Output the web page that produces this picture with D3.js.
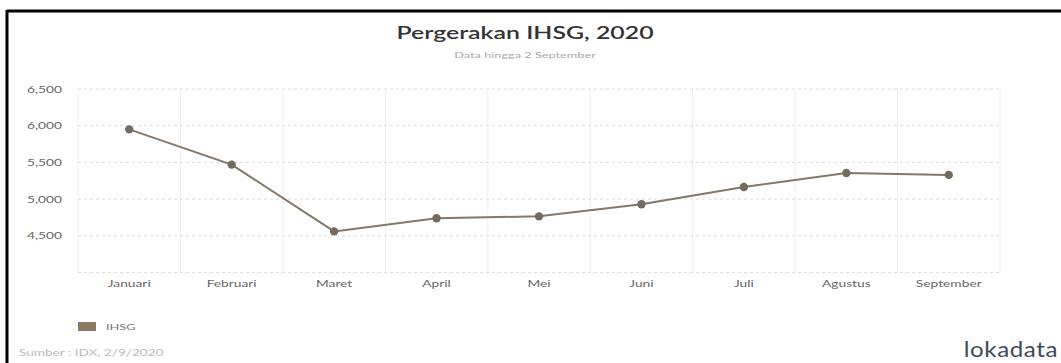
<!DOCTYPE html>
<html>
<head>
<meta charset="utf-8">
<script src="https://cdn.jsdelivr.net/npm/d3@7"></script>
<style>
  html, body { margin: 0; padding: 0; background: #fff; }
  svg { display: block; font-family: Lato, "Open Sans", sans-serif; }
</style>
</head>
<body>
<svg id="chart" width="1061" height="363"></svg>
<script>
// Monthly closing level of the IHSG index, 2020
const months = ["Januari", "Februari", "Maret", "April", "Mei", "Juni", "Juli", "Agustus", "September"];
const ihsg = [5950, 5470, 4560, 4740, 4765, 4930, 5165, 5355, 5330];
const yTicks = [4500, 5000, 5500, 6000, 6500];
const gridValues = [4000, 4500, 5000, 5500, 6000, 6500];

const svg = d3.select("#chart");

// the layout is stretched horizontally, text included
const stretch = 1.45;

function label(x, y, txt, opts) {
  const sx = opts.sx || stretch;
  const t = svg.append("text")
    .attr("transform", `translate(${x},${y}) scale(${sx},1)`)
    .attr("text-anchor", opts.anchor || "start")
    .attr("font-size", opts.size)
    .attr("font-weight", opts.weight || 400)
    .attr("fill", opts.fill)
    .text(txt);
  if (opts.spacing) t.attr("letter-spacing", opts.spacing);
  return t;
}

// frame lines along the top and left edge
svg.append("line").attr("x1", 7).attr("x2", 1061).attr("y1", 11).attr("y2", 11)
  .attr("stroke", "#000").attr("stroke-width", 3);
svg.append("line").attr("x1", 7).attr("x2", 7).attr("y1", 10).attr("y2", 363)
  .attr("stroke", "#000").attr("stroke-width", 3);

const plot = { left: 78, right: 1000, top: 89, bottom: 272.5 };

const x = d3.scaleBand().domain(months).range([plot.left, plot.right]);
const y = d3.scaleLinear().domain([4000, 6500]).range([plot.bottom, plot.top]);

// title block
label(525, 39, "Pergerakan IHSG, 2020", { anchor: "middle", size: 18, weight: 600, fill: "#333", sx: 1.38 });
label(525, 58, "Data hingga 2 September", { anchor: "middle", size: 8.5, fill: "#aaa", sx: 1.5 });

// vertical grid at band boundaries
const bounds = months.map(m => x(m)).concat([plot.right]);
svg.append("g").selectAll("line").data(bounds).join("line")
  .attr("x1", d => d).attr("x2", d => d)
  .attr("y1", plot.top).attr("y2", plot.bottom)
  .attr("stroke", "#f0f0f0").attr("stroke-width", 1);

// horizontal dashed grid
svg.append("g").selectAll("line").data(gridValues).join("line")
  .attr("x1", plot.left).attr("x2", plot.right)
  .attr("y1", d => y(d)).attr("y2", d => y(d))
  .attr("stroke", "#dcdcdc").attr("stroke-width", 1)
  .attr("stroke-dasharray", "3,3");

// y axis labels
const yAxis = d3.axisLeft(y).tickValues(yTicks).tickSize(0).tickPadding(0)
  .tickFormat(d3.format(","));
const gy = svg.append("g").attr("transform", `translate(62,0)`).call(yAxis);
gy.select(".domain").remove();
gy.selectAll("text").attr("font-size", 9.5).attr("fill", "#666")
  .attr("font-family", "Lato, sans-serif")
  .attr("transform", `scale(${stretch},1)`);

// x axis labels
const xAxis = d3.axisBottom(x).tickSize(0).tickPadding(0);
const gx = svg.append("g").attr("transform", `translate(0,${plot.bottom + 8})`).call(xAxis);
gx.select(".domain").remove();
gx.selectAll("text").attr("font-size", 9.5).attr("fill", "#666")
  .attr("font-family", "Lato, sans-serif")
  .attr("transform", `scale(${stretch},1)`);

// line and markers
const cx = m => x(m) + x.bandwidth() / 2;
const line = d3.line().x((d, i) => cx(months[i])).y(d => y(d));
svg.append("path").datum(ihsg).attr("d", line)
  .attr("fill", "none").attr("stroke", "#857868").attr("stroke-width", 2);
svg.append("g").selectAll("circle").data(ihsg).join("circle")
  .attr("cx", (d, i) => cx(months[i])).attr("cy", d => y(d))
  .attr("r", 4.2).attr("fill", "#756a5f");

// legend
svg.append("rect").attr("x", 78).attr("y", 322).attr("width", 18).attr("height", 9)
  .attr("fill", "#8b7a5f");
label(106, 330, "IHSG", { size: 8.5, fill: "#777", sx: 1.5 });

// source note
label(19, 356, "Sumber : IDX, 2/9/2020", { size: 8.5, fill: "#bbb", sx: 1.6 });

// brand
label(1058, 357, "lokadata", { anchor: "end", size: 21, weight: 400, fill: "#3b4b5c", sx: 1.15, spacing: 0.5 });
</script>
</body>
</html>
